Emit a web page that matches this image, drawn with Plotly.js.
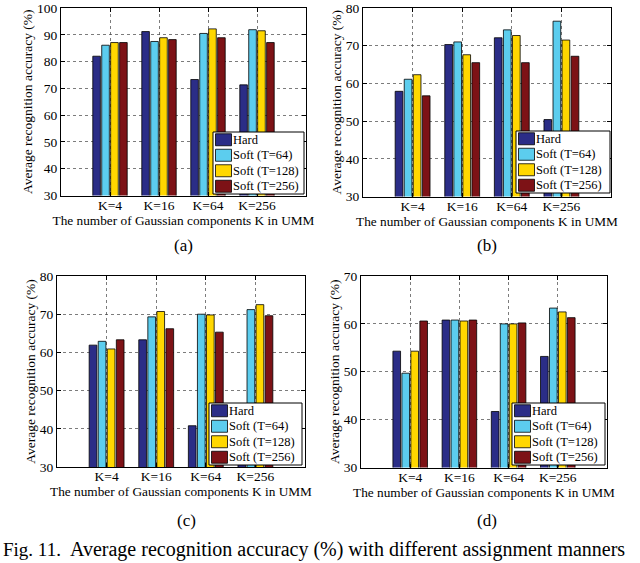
<!DOCTYPE html>
<html>
<head>
<meta charset="utf-8">
<script src="https://cdn.plot.ly/plotly-3.0.1.min.js"></script>
<style>html,body{margin:0;padding:0;background:#fff;}#chart{width:640px;height:563px;}</style>
</head>
<body>
<div id="chart"></div>
<script>
// ---- data ----
const categories = ["K=4", "K=16", "K=64", "K=256"];
const seriesNames = ["Hard", "Soft (T=64)", "Soft (T=128)", "Soft (T=256)"];

// panel (a)
const a_hard = [82.0, 91.2, 73.3, 71.3];
const a_soft64 = [86.1, 87.5, 90.5, 91.9];
const a_soft128 = [87.1, 88.9, 92.2, 91.5];
const a_soft256 = [87.1, 88.2, 88.9, 87.1];
// panel (b)
const b_hard = [57.9, 70.3, 72.1, 50.4];
const b_soft64 = [61.1, 71.0, 74.2, 76.5];
const b_soft128 = [62.3, 67.6, 72.7, 71.5];
const b_soft256 = [56.7, 65.5, 65.5, 67.2];
// panel (c)
const c_hard = [61.9, 63.3, 40.8, 45.0];
const c_soft64 = [62.9, 69.3, 70.0, 71.2];
const c_soft128 = [60.9, 70.7, 69.8, 72.5];
const c_soft256 = [63.3, 66.2, 65.3, 69.6];
// panel (d)
const d_hard = [54.3, 60.8, 41.7, 53.2];
const d_soft64 = [49.7, 60.8, 60.0, 63.3];
const d_soft128 = [54.3, 60.6, 60.0, 62.5];
const d_soft256 = [60.6, 60.8, 60.2, 61.3];

const yRanges = [[30, 100], [30, 80], [30, 80], [30, 70]];
const panelLabels = ["(a)", "(b)", "(c)", "(d)"];
const xTitle = "The number of Gaussian components K in UMM";
const yTitle = "Average recognition accuracy (%)";
const captionHead = "Fig. 11.";
const captionBody = "Average recognition accuracy (%) with different assignment manners";

// ---- styling ----
const colors = ["#2b2d87", "#5ccdee", "#ffd700", "#7d1216"];
const serif = "Liberation Serif";
const W = 640, H = 563;
// panel boxes in pixels [left, right, top, bottom]
const boxes = [[61, 306, 8, 195.5], [363, 611, 8, 196.5], [57, 305, 276, 467], [361, 607, 276, 467.5]];
// legend boxes in pixels [left, top, right, bottom]
const legendBoxes = [[213, 132, 304, 194], [516, 131, 610, 193], [209, 403, 302, 465], [512, 403, 605, 465]];
const labelPos = [[183, 246], [487, 246], [186, 520], [487, 520]];

const panels = [
  [a_hard, a_soft64, a_soft128, a_soft256],
  [b_hard, b_soft64, b_soft128, b_soft256],
  [c_hard, c_soft64, c_soft128, c_soft256],
  [d_hard, d_soft64, d_soft128, d_soft256]
];

const px = x => x / W;
const py = y => 1 - y / H;

const traces = [];
const layout = {
  width: W, height: H,
  margin: {l: 0, r: 0, t: 0, b: 0},
  paper_bgcolor: "#fff", plot_bgcolor: "#fff",
  font: {family: serif, size: 13, color: "#000"},
  barmode: "group", bargap: 0.27, bargroupgap: 0.15,
  annotations: [], shapes: [], showlegend: false
};

panels.forEach((vals, p) => {
  const sfx = p === 0 ? "" : String(p + 1);
  vals.forEach((v, s) => {
    traces.push({
      type: "bar", x: categories, y: v, name: seriesNames[s],
      xaxis: "x" + sfx, yaxis: "y" + sfx,
      marker: {color: colors[s], line: {color: "#000", width: 0.8}},
      hoverinfo: "y"
    });
  });
  const b = boxes[p];
  layout["xaxis" + sfx] = {
    domain: [px(b[0]), px(b[1])], anchor: "y" + sfx,
    type: "category", range: [-1, 4],
    showline: true, linecolor: "#000", linewidth: 1, mirror: "allticks",
    ticks: "inside", ticklen: 4, tickcolor: "#000",
    showgrid: true, gridcolor: "#444", griddash: "dot", gridwidth: 0.7,
    tickfont: {family: serif, size: 13.5}, ticklabelstandoff: -3,
    title: {text: xTitle, font: {family: serif, size: 13.3}, standoff: 0},
    fixedrange: true
  };
  layout["yaxis" + sfx] = {
    domain: [py(b[3]), py(b[2])], anchor: "x" + sfx,
    range: yRanges[p], dtick: 10,
    showline: true, linecolor: "#000", linewidth: 1, mirror: "allticks",
    ticks: "inside", ticklen: 4, tickcolor: "#000", ticklabeloverflow: "allow",
    showgrid: true, gridcolor: "#444", griddash: "dot", gridwidth: 0.7,
    zeroline: false,
    tickfont: {family: serif, size: 13.5},
    title: {text: yTitle, font: {family: serif, size: 13.5}, standoff: 1},
    fixedrange: true
  };
  // in-plot legend box (drawn on top of the bars)
  const lb = legendBoxes[p];
  layout.shapes.push({
    type: "rect", xref: "paper", yref: "paper", layer: "above",
    x0: px(lb[0]), x1: px(lb[2]), y0: py(lb[3]), y1: py(lb[1]),
    fillcolor: "#fff", line: {color: "#000", width: 1}
  });
  const rowH = (lb[3] - lb[1]) / 4;
  seriesNames.forEach((name, s) => {
    const cy = lb[1] + rowH * (s + 0.5);
    layout.shapes.push({
      type: "rect", xref: "paper", yref: "paper", layer: "above",
      x0: px(lb[0] + 2.5), x1: px(lb[0] + 18.5), y0: py(cy + 6), y1: py(cy - 6),
      fillcolor: colors[s], line: {color: "#000", width: 0.8}
    });
    layout.annotations.push({
      text: name, xref: "paper", yref: "paper",
      x: px(lb[0] + 18), y: py(cy), xanchor: "left", yanchor: "middle",
      showarrow: false, font: {family: serif, size: 12.5, color: "#000"}
    });
  });
  const pl = labelPos[p];
  layout.annotations.push({
    text: panelLabels[p], xref: "paper", yref: "paper",
    x: px(pl[0]), y: py(pl[1]), xanchor: "center", yanchor: "middle",
    showarrow: false, font: {family: serif, size: 17}
  });
});

layout.annotations.push({
  text: captionHead, xref: "paper", yref: "paper", x: px(1), y: py(549),
  xanchor: "left", yanchor: "middle", showarrow: false, font: {family: serif, size: 19}
});
layout.annotations.push({
  text: captionBody, xref: "paper", yref: "paper", x: px(68), y: py(549),
  xanchor: "left", yanchor: "middle", showarrow: false, font: {family: serif, size: 20}
});

Plotly.newPlot("chart", traces, layout, {staticPlot: true, displayModeBar: false});
</script>
</body>
</html>
